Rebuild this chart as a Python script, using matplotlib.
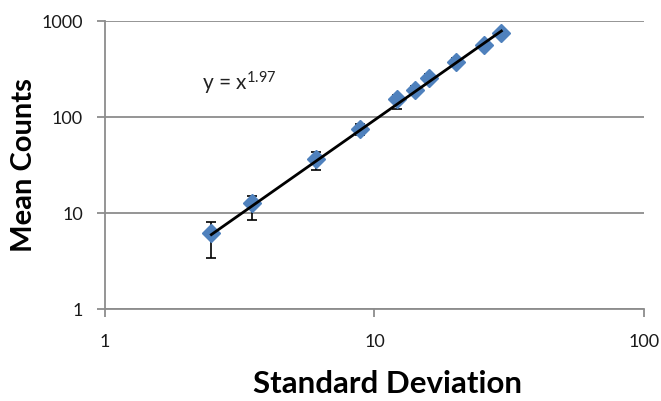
import matplotlib
matplotlib.use("Agg")
import matplotlib.pyplot as plt
import numpy as np

# values
std_dev = [2.48, 3.52, 6.05, 8.81, 12.1, 14.1, 15.9, 20.0, 25.4, 29.6]
mean_counts = [6.2, 12.8, 37, 76, 154, 191, 259, 377, 562, 755]
err_low = [2.8, 4.3, 8.5, 11, 31, 20, 25, 35, 50, 65]
err_high = [1.9, 2.3, 6, 8, 15, 20, 25, 35, 50, 65]
power = 1.97

x_ticks = [1, 10, 100]
y_ticks = [1, 10, 100, 1000]

plt.rcParams['font.family'] = ['Lato', 'DejaVu Sans']
plt.rcParams['mathtext.default'] = 'regular'

grid_col = '#8c8c8c'
blue = '#4f81bd'

fig = plt.figure(figsize=(6.61, 4.01), dpi=100)
ax = fig.add_axes([0.159, 0.229, 0.815, 0.718])

ax.set_xscale('log')
ax.set_yscale('log')
ax.set_xlim(1, 100)
ax.set_ylim(1, 1000)

# error bars under the markers
ax.errorbar(std_dev, mean_counts, yerr=[err_low, err_high], fmt='none',
            ecolor='black', elinewidth=1.2, capsize=3.3, capthick=1.2, zorder=2)
ax.plot(std_dev, mean_counts, linestyle='none', marker='D', markersize=9,
        markerfacecolor=blue, markeredgecolor=blue, zorder=3)

# power trend line
xs = np.linspace(min(std_dev), max(std_dev), 50)
ax.plot(xs, xs ** power, color='black', linewidth=2, zorder=4)

ax.text(0.18, 0.785, r'y = x$^{1.97}$', transform=ax.transAxes,
        fontsize=15, ha='left', va='center', color='#222222')

ax.set_xticks(x_ticks)
ax.set_xticklabels([str(t) for t in x_ticks])
ax.set_yticks(y_ticks)
ax.set_yticklabels([str(t) for t in y_ticks])
ax.minorticks_off()

ax.yaxis.grid(True, color=grid_col, linewidth=1.3)
ax.set_axisbelow(True)
for side in ['top', 'right']:
    ax.spines[side].set_visible(False)
for side in ['left', 'bottom']:
    ax.spines[side].set_color(grid_col)
    ax.spines[side].set_linewidth(1.3)
ax.tick_params(axis='both', direction='out', length=6, width=1.3,
               color=grid_col, labelsize=13, labelcolor='#1a1a1a')
ax.tick_params(axis='y', pad=10)
ax.tick_params(axis='x', pad=12)

ax.set_xlabel('Standard Deviation', fontsize=22.5, fontweight='bold')
ax.set_ylabel('Mean Counts', fontsize=21, fontweight='bold')
ax.xaxis.set_label_coords(0.525, -0.21)
ax.yaxis.set_label_coords(-0.127, 0.5)

fig.savefig('out.png', dpi=100)
